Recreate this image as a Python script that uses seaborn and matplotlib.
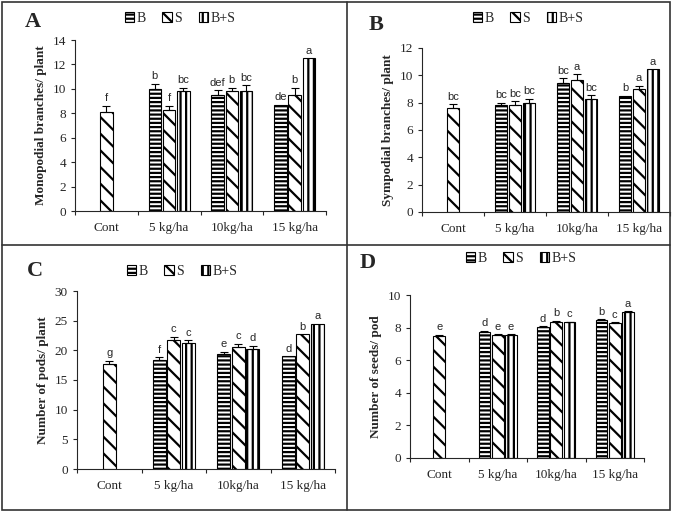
import numpy as np
import pandas as pd
import matplotlib
matplotlib.use("Agg")
import matplotlib.pyplot as plt
import seaborn as sns
from matplotlib.patches import Patch, Rectangle
from matplotlib.lines import Line2D

sns.set_style("ticks")
plt.rcParams['font.family'] = ['Liberation Serif', 'DejaVu Serif']
plt.rcParams['hatch.linewidth'] = 1.6

nan = np.nan
doses = ["Cont", "5 kg/ha", "10kg/ha", "15 kg/ha"]
treatments = ["B", "S", "B+S"]

# A - monopodial branches
mono_B = [nan, 10.0, 9.5, 8.7]
mono_S = [8.1, 8.3, 9.8, 9.5]
mono_BS = [nan, 9.8, 9.8, 12.5]
mono_err_B = [nan, 0.4, 0.4, 0.0]
mono_err_S = [0.5, 0.3, 0.3, 0.6]
mono_err_BS = [nan, 0.3, 0.5, 0.0]
mono_let_B = ["", "b", "def", "de"]
mono_let_S = ["f", "f", "b", "b"]
mono_let_BS = ["", "bc", "bc", "a"]

# B - sympodial branches
symp_B = [nan, 7.8, 9.45, 8.5]
symp_S = [7.6, 7.8, 9.65, 9.0]
symp_BS = [nan, 8.0, 8.3, 10.45]
symp_err_B = [nan, 0.2, 0.35, 0.0]
symp_err_S = [0.3, 0.3, 0.45, 0.25]
symp_err_BS = [nan, 0.3, 0.25, 0.0]
symp_let_B = ["", "bc", "bc", "b"]
symp_let_S = ["bc", "bc", "a", "a"]
symp_let_BS = ["", "bc", "bc", "a"]

# C - pods per plant
pods_B = [nan, 18.3, 19.4, 19.0]
pods_S = [17.7, 21.7, 20.5, 22.7]
pods_BS = [nan, 21.3, 20.3, 24.5]
pods_err_B = [nan, 0.5, 0.3, 0.0]
pods_err_S = [0.5, 0.6, 0.6, 0.0]
pods_err_BS = [nan, 0.4, 0.5, 0.0]
pods_let_B = ["", "f", "e", "d"]
pods_let_S = ["g", "c", "c", "b"]
pods_let_BS = ["", "c", "d", "a"]

# D - seeds per pod
seeds_B = [nan, 7.76, 8.05, 8.48]
seeds_S = [7.5, 7.56, 8.36, 8.27]
seeds_BS = [nan, 7.56, 8.32, 8.97]
seeds_err_B = [nan, 0.05, 0.05, 0.05]
seeds_err_S = [0.05, 0.05, 0.05, 0.05]
seeds_err_BS = [nan, 0.05, 0.05, 0.05]
seeds_let_B = ["", "d", "d", "b"]
seeds_let_S = ["e", "e", "b", "c"]
seeds_let_BS = ["", "e", "c", "a"]

hatches = {"B": "----", "S": "\\\\", "B+S": "|||"}
W, H = 682, 522


def px_rect(l, t, r, b):
    return [l / W, 1 - b / H, (r - l) / W, (b - t) / H]


def draw_panel(ax, vals, errs, lets, ylim, yticks, ylabel, leg_xy):
    rows = []
    for t, v in zip(treatments, vals):
        for d, y in zip(doses, v):
            if not np.isnan(y):
                rows.append({"dose": d, "trt": t, "val": y})
    df = pd.DataFrame(rows)
    width = 0.68
    sns.barplot(data=df, x="dose", y="val", hue="trt", order=doses,
                hue_order=treatments, palette=["white"] * 3, edgecolor="black",
                linewidth=0.8, width=width, gap=0.12, errorbar=None,
                legend=False, ax=ax)
    step = width / 3
    for p in ax.patches:
        xc = p.get_x() + p.get_width() / 2
        ci = int(round(xc))
        hi = int(round((xc - ci) / step)) + 1
        t = treatments[hi]
        p.set_hatch(hatches[t])
        h = p.get_height()
        e = errs[hi][ci]
        if e > 0:
            ax.errorbar(xc, h, yerr=[[0], [e]], color="black", lw=0.8,
                        capsize=3, capthick=0.8)
        ax.text(xc, h + e + (ylim[1] * 0.015), lets[hi][ci], ha="center",
                va="bottom", fontsize=8, fontfamily="Liberation Sans")
    ax.set_xlim(-0.5, 3.5)
    ax.set_ylim(*ylim)
    ax.set_yticks(yticks)
    ax.set_xlabel("")
    ax.set_ylabel(ylabel, fontsize=9.5, fontweight="bold", labelpad=4)
    ax.set_xticks(range(4))
    ax.set_xticklabels(doses, fontsize=9.5)
    ax.set_xticks([-0.5, 0.5, 1.5, 2.5, 3.5], minor=True)
    ax.tick_params(axis="x", which="major", length=0, pad=8)
    ax.tick_params(axis="x", which="minor", length=3, width=0.8)
    ax.tick_params(axis="y", labelsize=9.5, length=3, width=0.8)
    for s in ["left", "bottom"]:
        ax.spines[s].set_linewidth(0.8)
    sns.despine(ax=ax)
    handles = [Patch(facecolor="white", edgecolor="black", hatch=hatches[t], lw=0.8)
               for t in treatments]
    ax.legend(handles, treatments, loc="center", ncol=3, frameon=False,
              bbox_to_anchor=(leg_xy[0] / W, 1 - leg_xy[1] / H),
              bbox_transform=ax.figure.transFigure, fontsize=10,
              handlelength=0.7, handleheight=0.7, handletextpad=0.15,
              columnspacing=1.2)


fig = plt.figure(figsize=(6.82, 5.22), dpi=100)
axA = fig.add_axes(px_rect(75, 40, 326, 211))
axB = fig.add_axes(px_rect(422, 48, 670, 212))
axC = fig.add_axes(px_rect(77, 291, 335, 469))
axD = fig.add_axes(px_rect(410, 295, 644, 458))

draw_panel(axA, [mono_B, mono_S, mono_BS], [mono_err_B, mono_err_S, mono_err_BS],
           [mono_let_B, mono_let_S, mono_let_BS], (0, 14), range(0, 15, 2),
           "Monopodial branches/ plant", (180, 18))
draw_panel(axB, [symp_B, symp_S, symp_BS], [symp_err_B, symp_err_S, symp_err_BS],
           [symp_let_B, symp_let_S, symp_let_BS], (0, 12), range(0, 13, 2),
           "Sympodial branches/ plant", (528, 18))
draw_panel(axC, [pods_B, pods_S, pods_BS], [pods_err_B, pods_err_S, pods_err_BS],
           [pods_let_B, pods_let_S, pods_let_BS], (0, 30), range(0, 31, 5),
           "Number of pods/ plant", (182, 271))
draw_panel(axD, [seeds_B, seeds_S, seeds_BS], [seeds_err_B, seeds_err_S, seeds_err_BS],
           [seeds_let_B, seeds_let_S, seeds_let_BS], (0, 10), range(0, 11, 2),
           "Number of seeds/ pod", (521, 258))

# panel letters
for lab, (x, y) in zip("ABCD", [(33, 22), (376, 25), (35, 271), (368, 263)]):
    fig.text(x / W, 1 - y / H, lab, ha="center", va="center", fontsize=16,
             fontweight="bold")

# panel frame
fig.add_artist(Rectangle((2 / W, 1 - 510 / H), 668 / W, 508 / H, fill=False,
                         edgecolor="#333333", lw=1.2, transform=fig.transFigure))
fig.add_artist(Line2D([347 / W, 347 / W], [1 - 2 / H, 1 - 510 / H],
                      color="#333333", lw=1.2, transform=fig.transFigure))
fig.add_artist(Line2D([2 / W, 670 / W], [1 - 245 / H, 1 - 245 / H],
                      color="#333333", lw=1.2, transform=fig.transFigure))

fig.savefig("out.png", dpi=100)
